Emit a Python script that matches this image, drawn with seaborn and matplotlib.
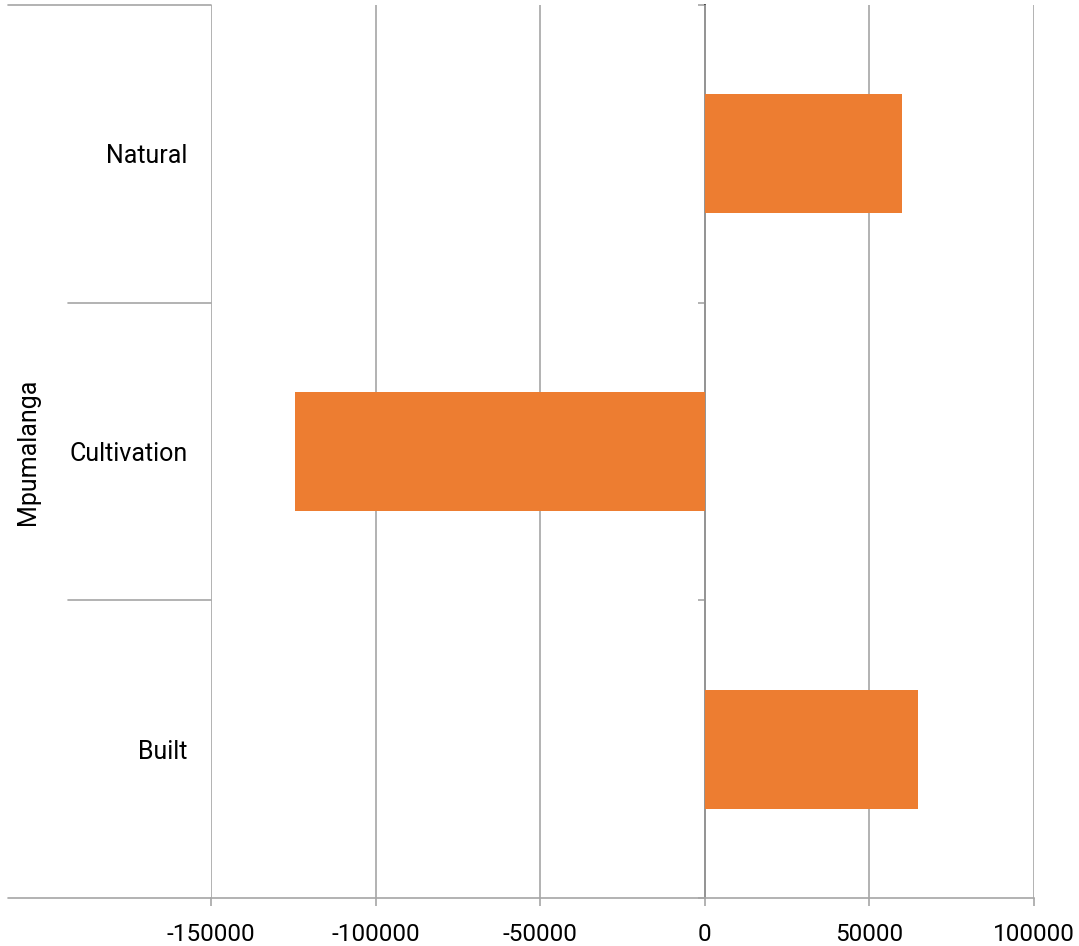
import matplotlib
matplotlib.use("Agg")
import matplotlib.pyplot as plt
import seaborn as sns
import pandas as pd

# data
categories = ["Natural", "Cultivation", "Built"]
values = [60000, -124500, 64700]
group_label = "Mpumalanga"
x_ticks = [-150000, -100000, -50000, 0, 50000, 100000]

sns.set_theme(style="white")
plt.rcParams['font.family'] = ['Roboto', 'DejaVu Sans']

grid_col = "#A6A6A6"
bar_col = "#ED7D31"

df = pd.DataFrame({"category": categories, "value": values})

fig = plt.figure(figsize=(10.79, 9.46), dpi=100)
ax = fig.add_axes([0.1955, 0.0507, 0.7628, 0.944])

sns.barplot(data=df, x="value", y="category", orient="h", color=bar_col,
            width=0.4, saturation=1, linewidth=0, ax=ax, zorder=3)

ax.set_xlim(-150000, 100000)
ax.set_ylim(2.5, -0.5)
ax.set_xticks(x_ticks)
ax.set_xticklabels([str(v) for v in x_ticks], fontsize=17.5, color="#000000")
ax.xaxis.grid(True, color=grid_col, linewidth=1.2)
ax.set_axisbelow(True)
ax.tick_params(axis="x", direction="out", length=6, width=1.2, color=grid_col,
               pad=12, bottom=True)
ax.tick_params(axis="y", length=0, pad=17, labelsize=18, labelcolor="#000000")
ax.set_xlabel("")
ax.set_ylabel("")

for side in ["top", "right", "left"]:
    ax.spines[side].set_visible(False)
ax.spines["bottom"].set_color(grid_col)
ax.spines["bottom"].set_linewidth(1.2)

# category axis at value 0
sec = ax.secondary_yaxis(0.6)
sec.set_yticks([-0.5, 0.5, 1.5, 2.5])
sec.set_yticklabels([])
sec.tick_params(axis="y", direction="in", length=5, width=1.2, color=grid_col)
sec.spines["left"].set_color(grid_col)
sec.spines["left"].set_linewidth(1.2)

# multi-level label box on the left
tr = ax.get_yaxis_transform()
left_edge = -0.2467
ax.plot([left_edge, 0], [-0.5, -0.5], transform=tr, color=grid_col, lw=1.2, clip_on=False)
ax.plot([left_edge, 0], [2.5, 2.5], transform=tr, color=grid_col, lw=1.2, clip_on=False)
for b in [0.5, 1.5]:
    ax.plot([-0.1738, 0], [b, b], transform=tr, color=grid_col, lw=1.2, clip_on=False)
ax.text(-0.222, 0.5, group_label, transform=ax.transAxes, rotation=90,
        ha="center", va="center", fontsize=18, color="#000000")

fig.savefig("out.png", dpi=100)
